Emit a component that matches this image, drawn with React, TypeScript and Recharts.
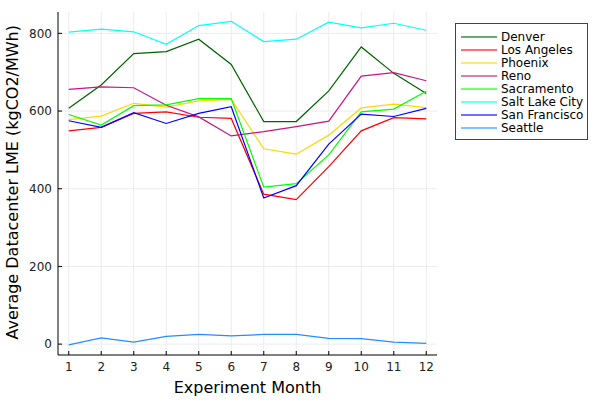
import { LineChart, Line, XAxis, YAxis, CartesianGrid } from 'recharts';

// experiment months
const months = [1, 2, 3, 4, 5, 6, 7, 8, 9, 10, 11, 12];

// average datacenter LME per city (kgCO2/MWh)
const denver = [607, 667, 748, 753, 785, 720, 573, 573, 652, 765, 697, 645];
const losAngeles = [549, 558, 594, 598, 584, 581, 386, 372, 457, 549, 583, 580];
const phoenix = [578, 587, 620, 610, 626, 630, 503, 489, 538, 608, 618, 609];
const reno = [656, 662, 660, 615, 585, 536, 547, 560, 574, 690, 699, 678];
const sacramento = [591, 564, 614, 616, 632, 632, 404, 413, 487, 598, 605, 651];
const saltLakeCity = [803, 811, 804, 772, 820, 831, 779, 785, 829, 814, 826, 808];
const sanFrancisco = [575, 558, 596, 568, 594, 611, 376, 408, 515, 592, 586, 607];
const seattle = [-2, 16, 5, 20, 25, 21, 25, 25, 15, 14, 5, 2];

const yTicks = [0, 200, 400, 600, 800];

const series = [
  { name: 'Denver', values: denver, color: '#006400' },
  { name: 'Los Angeles', values: losAngeles, color: '#ff0000' },
  { name: 'Phoenix', values: phoenix, color: '#ffd700' },
  { name: 'Reno', values: reno, color: '#c71585' },
  { name: 'Sacramento', values: sacramento, color: '#00ff00' },
  { name: 'Salt Lake City', values: saltLakeCity, color: '#00ffff' },
  { name: 'San Francisco', values: sanFrancisco, color: '#0000ff' },
  { name: 'Seattle', values: seattle, color: '#1e90ff' },
];

const data = months.map((m, i) => {
  const row: Record<string, number> = { month: m };
  series.forEach((s) => {
    row[s.name] = s.values[i];
  });
  return row;
});

const font = '"DejaVu Sans", sans-serif';

// legend drawn as an overlay so it does not shrink the plot area
const LegendBox = () => (
  <div
    style={{
      position: 'absolute',
      left: 455,
      top: 23,
      width: 133,
      height: 117,
      boxSizing: 'border-box',
      border: '1px solid #444',
      background: '#fff',
      padding: '6px 0 0 5px',
      fontFamily: font,
      fontSize: 12,
      color: '#000',
    }}
  >
    {series.map((s) => (
      <div key={s.name} style={{ display: 'flex', alignItems: 'center', height: 13 }}>
        <svg width={36} height={4} style={{ marginRight: 4, display: 'block' }}>
          <line x1={0} y1={2} x2={36} y2={2} stroke={s.color} strokeWidth={1.5} strokeOpacity={0.75} />
        </svg>
        <span style={{ whiteSpace: 'nowrap' }}>{s.name}</span>
      </div>
    ))}
  </div>
);

export default function App() {
  return (
    <div style={{ position: 'absolute', left: 0, top: 0, width: 600, height: 400, background: '#fff' }}>
      <LineChart width={600} height={400} data={data} margin={{ top: 12, right: 163, bottom: 0, left: 0 }}>
        <CartesianGrid stroke="#ececec" strokeWidth={1} horizontalValues={yTicks} verticalValues={months} />
        <XAxis
          dataKey="month"
          type="number"
          domain={[0.67, 12.33]}
          ticks={months}
          interval={0}
          stroke="#000"
          tickSize={-4}
          tickMargin={11}
          tick={{ fill: '#222', fontSize: 12, fontFamily: font }}
          label={{ value: 'Experiment Month', position: 'insideBottom', offset: 7, fill: '#000', fontSize: 16, fontFamily: font }}
          height={45}
        />
        <YAxis
          type="number"
          domain={[-28, 855]}
          ticks={yTicks}
          allowDataOverflow
          stroke="#000"
          tickSize={-4}
          tickMargin={10}
          width={58}
          tick={{ fill: '#222', fontSize: 12, fontFamily: font }}
          label={{
            value: 'Average Datacenter LME (kgCO2/MWh)',
            angle: -90,
            position: 'insideLeft',
            dx: 7,
            dy: 156,
            fill: '#000',
            fontSize: 16,
            fontFamily: font,
          }}
        />
        {series.map((s) => (
          <Line
            key={s.name}
            type="linear"
            dataKey={s.name}
            stroke={s.color}
            strokeWidth={1.2}
            dot={false}
            isAnimationActive={false}
          />
        ))}
      </LineChart>
      <LegendBox />
    </div>
  );
}
